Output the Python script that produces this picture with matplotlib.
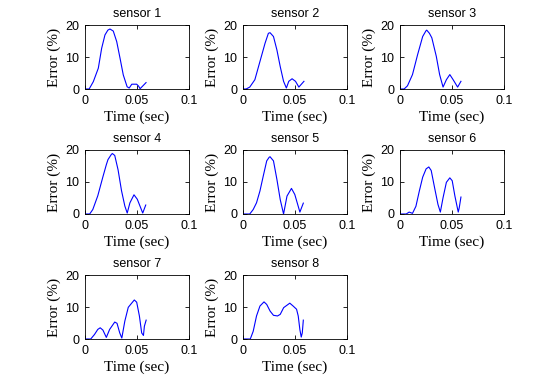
"""
Error por sensor frente al tiempo (rejilla 3x3 estilo MATLAB, 8 paneles).
"""

import matplotlib
matplotlib.use("Agg")
import matplotlib.pyplot as plt

# tiempos (s) y error (%), un par de listas por sensor
t1 = [0, 0.004, 0.008, 0.0128, 0.016, 0.0192, 0.022, 0.024, 0.0272, 0.0305, 0.0337,
      0.0368, 0.0405, 0.0425, 0.045, 0.0497, 0.0515, 0.0530, 0.0587]
e1 = [0, 0, 2.3, 6.5, 12.7, 16.9, 18.4, 18.75, 18.1, 14.8, 9.6,
      4.4, 0.7, 0.3, 1.5, 1.5, 0.9, 0.1, 2.0]

t2 = [0, 0.003, 0.0065, 0.0114, 0.0163, 0.0212, 0.0244, 0.026, 0.0293, 0.0326, 0.0358,
      0.039, 0.0417, 0.044, 0.0472, 0.0505, 0.0537, 0.0586]
e2 = [0, 0, 0.6, 2.9, 8.6, 14.3, 17.4, 17.6, 16.4, 12.2, 7.0,
      2.4, 0.3, 2.4, 3.2, 2.4, 0.6, 2.4]

t3 = [0, 0.004, 0.0072, 0.012, 0.0169, 0.0218, 0.025, 0.0257, 0.0283, 0.0306, 0.0349,
      0.0381, 0.0414, 0.0446, 0.0479, 0.0511, 0.0554, 0.0586]
e3 = [0, 0, 1.0, 4.5, 10.7, 16.4, 18.2, 18.4, 17.4, 16.0, 10.2,
      4.5, 0.6, 2.9, 4.5, 2.9, 0.6, 2.4]

t4 = [0, 0.0045, 0.0075, 0.0123, 0.0172, 0.0205, 0.0221, 0.0253, 0.0263, 0.0286, 0.0318,
      0.0351, 0.0383, 0.0406, 0.0432, 0.0471, 0.0503, 0.0555, 0.0584]
e4 = [0, 0, 1.4, 5.7, 11.6, 15.4, 17.0, 18.6, 18.9, 18.3, 13.8,
      7.3, 2.5, 0.3, 3.5, 6.0, 4.6, 0.3, 2.8]

t5 = [0, 0.0065, 0.0098, 0.013, 0.0163, 0.0195, 0.0228, 0.0251, 0.026, 0.0293, 0.0326,
      0.0358, 0.039, 0.0423, 0.0466, 0.0498, 0.0531, 0.0547, 0.058]
e5 = [0, 0, 1.4, 3.5, 7.2, 11.9, 16.6, 17.7, 17.9, 16.6, 10.8,
      4.5, 0.0, 5.6, 8.0, 6.1, 2.4, 0.6, 3.4]

t6 = [0, 0.006, 0.0088, 0.012, 0.0153, 0.0186, 0.0218, 0.0251, 0.0277, 0.030, 0.0332,
      0.0365, 0.0388, 0.0414, 0.0446, 0.0479, 0.0502, 0.0528, 0.056, 0.057, 0.0586]
e6 = [0, 0, 0.6, 0.2, 2.4, 7.2, 11.5, 14.1, 14.7, 13.6, 8.3,
      3.0, 0.6, 5.1, 9.9, 11.3, 10.4, 5.6, 0.6, 2.0, 5.3]

t7 = [0, 0.0055, 0.0091, 0.0123, 0.0146, 0.0172, 0.0205, 0.0237, 0.0286, 0.0308, 0.0334,
      0.0354, 0.0383, 0.0416, 0.0474, 0.0497, 0.0523, 0.0545, 0.0562, 0.0571, 0.0588]
e7 = [0, 0, 1.4, 3.0, 3.5, 2.8, 0.5, 3.0, 5.3, 4.9, 1.9,
      0.3, 5.6, 9.9, 12.2, 11.5, 7.2, 1.9, 1.1, 4.0, 5.9]

t8 = [0, 0.007, 0.0098, 0.013, 0.0163, 0.0202, 0.0228, 0.0261, 0.0293, 0.0332, 0.0358,
      0.0391, 0.045, 0.0482, 0.0515, 0.0531, 0.0547, 0.056, 0.057, 0.058]
e8 = [0, 0, 2.4, 7.2, 10.3, 11.6, 10.8, 8.7, 7.4, 7.2, 7.7,
      9.8, 11.2, 10.3, 9.3, 7.2, 2.9, 0.6, 1.9, 5.9]

times = [t1, t2, t3, t4, t5, t6, t7, t8]
errors = [e1, e2, e3, e4, e5, e6, e7, e8]
titles = [f"sensor {i}" for i in range(1, 9)]

x_ticks = [0, 0.05, 0.1]
x_ticklabels = ["0", "0.05", "0.1"]
y_ticks = [0, 10, 20]

W, H = 560, 379
col_left = [85, 243, 400]     # px
row_top = [25, 150, 275]      # px
ax_w, ax_h = 104, 64

fig = plt.figure(figsize=(W / 100, H / 100), dpi=100)
fig.patch.set_facecolor("white")

for i, (t, e) in enumerate(zip(times, errors)):
    r, c = divmod(i, 3)
    left = col_left[c] / W
    bottom = (H - row_top[r] - ax_h) / H
    ax = fig.add_axes([left, bottom, ax_w / W, ax_h / H])
    ax.plot(t, e, color="#0000FF", linewidth=0.8)
    ax.set_xlim(0, 0.1)
    ax.set_ylim(0, 20)
    ax.set_xticks(x_ticks)
    ax.set_xticklabels(x_ticklabels)
    ax.set_yticks(y_ticks)
    ax.tick_params(direction="in", length=3, width=0.6, top=True, right=True,
                   labelsize=9, pad=4)
    for lab in ax.get_xticklabels() + ax.get_yticklabels():
        lab.set_family("Liberation Sans")
    for sp in ax.spines.values():
        sp.set_linewidth(0.6)
    ax.set_title(titles[i], fontsize=9, family="Liberation Sans", pad=6)
    ax.set_xlabel("Time (sec)", fontsize=11, family="Liberation Serif", labelpad=3)
    ax.set_ylabel("Error (%)", fontsize=11, family="Liberation Serif", labelpad=3)

fig.savefig("out.png", dpi=100, facecolor=fig.get_facecolor())
plt.close(fig)
